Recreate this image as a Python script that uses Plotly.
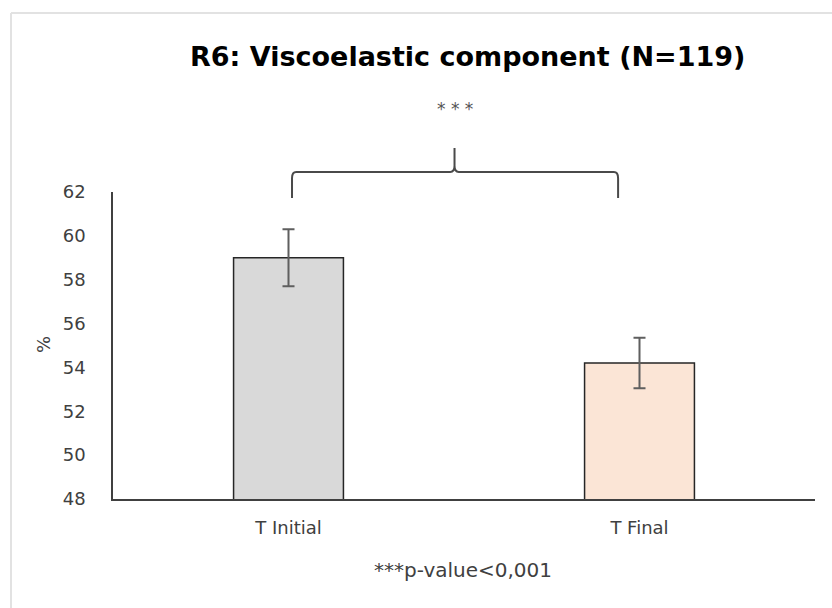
import plotly.graph_objects as go

categories = ["T Initial", "T Final"]
means = [59.0, 54.2]
errors = [1.3, 1.15]
bar_colors = ["#d9d9d9", "#fbe5d6"]
y_ticks = [48, 50, 52, 54, 56, 58, 60, 62]

title_text = "R6: Viscoelastic component (N=119)"
sig_text = "* * *"
footnote = "***p-value<0,001"

W, H = 832, 608
L, R, T, B = 113, 17, 192, 109
pw, ph = W - L - R, H - T - B
FONT = "DejaVu Sans"

def px_x(px):
    return (px - L) / pw

def px_y(py):
    return (H - B - py) / ph

fig = go.Figure()
fig.add_trace(go.Bar(
    x=categories, y=means,
    marker=dict(color=bar_colors, line=dict(color="#262626", width=1.5)),
    width=0.313,
    error_y=dict(type="data", array=errors, visible=True,
                 color="#5f5f5f", thickness=2, width=6),
    hoverinfo="skip",
))

# bracket (x in category units, y in paper)
x0, xc, x1 = 0.01, 0.473, 0.939
yb, yh, yt = px_y(198), px_y(172), px_y(148)
e = 0.012
ey = 0.02
path = (f"M {x0},{yb} L {x0},{yh-ey} Q {x0},{yh} {x0+e},{yh} "
        f"L {xc-e},{yh} Q {xc},{yh} {xc},{yh+ey} L {xc},{yt} "
        f"M {xc},{yh+ey} Q {xc},{yh} {xc+e},{yh} "
        f"L {x1-e},{yh} Q {x1},{yh} {x1},{yh-ey} L {x1},{yb}")
shapes = [
    dict(type="path", xref="x", yref="paper", path=path,
         line=dict(color="#4a4a4a", width=2)),
    # outer frame (top and left)
    dict(type="line", xref="paper", yref="paper",
         x0=px_x(11), x1=px_x(W + 5), y0=px_y(13), y1=px_y(13),
         line=dict(color="#e2e2e2", width=2)),
    dict(type="line", xref="paper", yref="paper",
         x0=px_x(11), x1=px_x(11), y0=px_y(13), y1=px_y(H + 5),
         line=dict(color="#e2e2e2", width=2)),
]

def ann(text, x, y, size, color, angle=0, family=FONT):
    return dict(text=text, xref="paper", yref="paper",
                x=px_x(x), y=px_y(y), xanchor="center", yanchor="middle",
                showarrow=False, textangle=angle,
                font=dict(family=family, size=size, color=color))

annotations = [
    ann(f"<b>{title_text}</b>", 467, 56, 27, "#000000"),
    ann(sig_text, 455, 109, 17, "#555555"),
    ann(footnote, 463, 570, 20, "#404040"),
    ann("%", 43, 345, 18, "#404040", angle=-90),
]

fig.update_layout(
    width=W, height=H,
    margin=dict(l=L, r=R, t=T, b=B, pad=0),
    paper_bgcolor="white", plot_bgcolor="white",
    showlegend=False,
    shapes=shapes, annotations=annotations,
    font=dict(family=FONT, size=18, color="#404040"),
)
fig.update_xaxes(
    showline=True, linecolor="#404040", linewidth=1.5,
    showgrid=False, ticks="", ticklabelstandoff=12,
    tickfont=dict(family=FONT, size=18, color="#404040"),
    range=[-0.5, 1.5], fixedrange=True,
)
fig.update_yaxes(
    range=[48, 62], tickvals=y_ticks,
    showline=True, linecolor="#404040", linewidth=1.5,
    showgrid=False, zeroline=False, ticks="", ticklabelstandoff=22,
    tickfont=dict(family=FONT, size=18, color="#404040"),
    fixedrange=True,
)

fig.write_html("out.html")
